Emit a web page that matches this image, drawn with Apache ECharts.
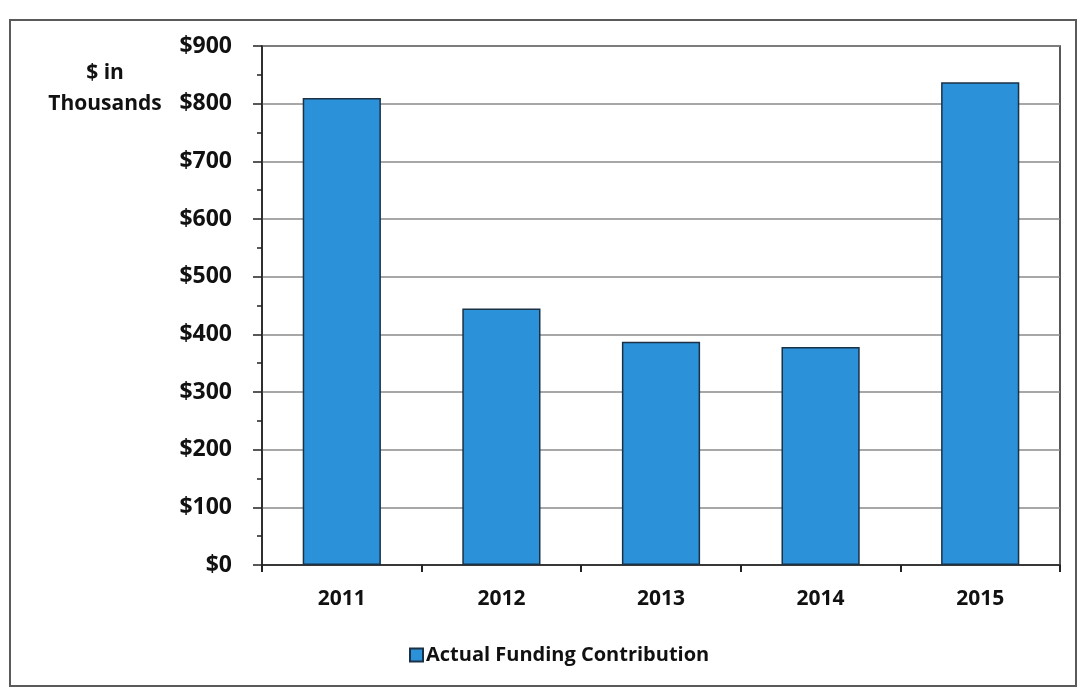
<!DOCTYPE html>
<html>
<head>
<meta charset="utf-8">
<script src="https://cdn.jsdelivr.net/npm/echarts@6/dist/echarts.min.js"></script>
<style>
  html, body { margin: 0; padding: 0; background: #ffffff; }
  #chart { width: 1082px; height: 689px; }
</style>
</head>
<body>
<div id="chart"></div>
<script>
// Annual funding, in thousands of dollars
const years = ['2011', '2012', '2013', '2014', '2015'];
const fundingValues = [810, 445, 387, 378, 837];
const seriesName = 'Actual Funding Contribution';
const yTickValues = [0, 100, 200, 300, 400, 500, 600, 700, 800, 900];

const chart = echarts.init(document.getElementById('chart'));
const FONT = '"Open Sans", Lato, sans-serif';

chart.setOption({
  animation: false,
  backgroundColor: '#ffffff',
  graphic: [
    {
      // outer chart frame
      type: 'rect',
      shape: { x: 10, y: 20, width: 1066, height: 666 },
      style: { fill: 'none', stroke: '#5a5a5a', lineWidth: 2 },
      z: -1
    },
    {
      // y-axis unit caption
      type: 'text',
      x: 105, y: 58,
      style: {
        text: '$ in\nThousands',
        font: 'bold 21px ' + FONT,
        fill: '#111',
        lineHeight: 31,
        align: 'center'
      }
    }
  ],
  grid: {
    left: 262, right: 22, top: 46, bottom: 124,
    show: true,
    borderColor: '#222',
    borderWidth: 1.5,
    backgroundColor: 'transparent'
  },
  legend: {
    data: [seriesName],
    left: 404,
    top: 640,
    itemWidth: 13,
    itemHeight: 13,
    itemGap: 4,
    icon: 'rect',
    textStyle: { fontFamily: FONT, fontWeight: 'bold', fontSize: 20, color: '#111', padding: [0, 0, 0, -2] }
  },
  xAxis: {
    type: 'category',
    data: years,
    axisLine: { lineStyle: { color: '#222', width: 1.5 } },
    axisTick: { show: true, inside: false, length: 7, lineStyle: { color: '#222', width: 2 } },
    axisLabel: { fontFamily: FONT, fontWeight: 'bold', fontSize: 21, color: '#111', margin: 24 }
  },
  yAxis: {
    type: 'value',
    min: 0, max: 900, interval: 100,
    axisLine: { show: true, lineStyle: { color: '#222', width: 1.5 } },
    axisTick: { show: true, length: 9, lineStyle: { color: '#222', width: 1.5 } },
    minorTick: { show: true, splitNumber: 2, length: 5, lineStyle: { color: '#222', width: 1.5 } },
    splitLine: { show: true, lineStyle: { color: '#8a8a8a', width: 1.5 } },
    axisLabel: {
      fontFamily: FONT, fontWeight: 'bold', fontSize: 23, color: '#111', margin: 30,
      customValues: yTickValues,
      formatter: v => '$' + v
    }
  },
  series: [{
    name: seriesName,
    type: 'bar',
    data: fundingValues,
    barWidth: '49%',
    itemStyle: { color: '#2b91d9', borderColor: '#1b3146', borderWidth: 1.5 }
  }]
});
</script>
</body>
</html>
